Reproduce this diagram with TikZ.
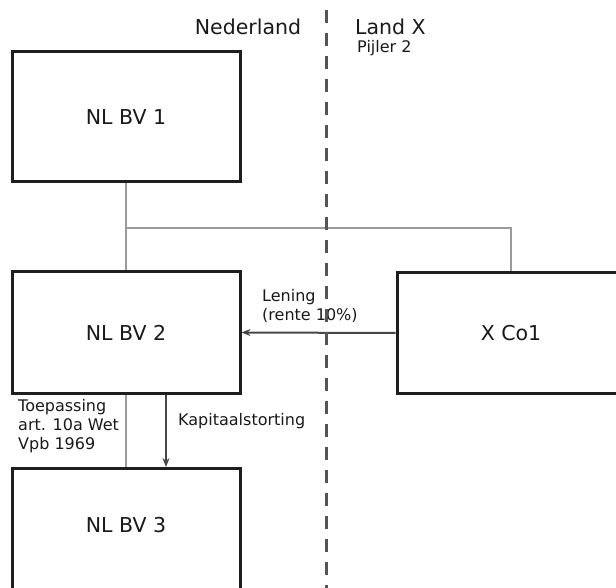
\documentclass[tikz,border=0pt]{standalone}
\usepackage{fontspec}
\setmainfont{DejaVu Sans}
\usetikzlibrary{arrows.meta}
\definecolor{boxline}{HTML}{1E1E1E}
\definecolor{txt}{HTML}{1A1A1A}
\definecolor{greyconn}{HTML}{9A9A9A}
\definecolor{arrowc}{HTML}{474747}
\definecolor{dashc}{HTML}{555555}
\tikzset{
  entity/.style={draw=boxline, line width=3pt, fill=white, minimum width=228pt, minimum height=121pt, inner sep=0pt, text=txt, font=\fontsize{20.5}{24}\selectfont},
  bigtext/.style={text=txt, font=\fontsize{20.5}{24}\selectfont, inner sep=0pt},
  smalltext/.style={text=txt, font=\fontsize{16}{19}\selectfont, inner sep=0pt, align=left},
  owner/.style={draw=greyconn, line width=1.5pt},
  flow/.style={draw=arrowc, line width=2pt, -{Stealth[length=9pt,width=7pt]}},
  border/.style={draw=dashc, line width=3pt, dash pattern=on 13pt off 10pt},
}
\begin{document}
\begin{tikzpicture}[x=1pt,y=-1pt]
\useasboundingbox (0,0) rectangle (616,588);
\clip (0,0) rectangle (616,588);
\fill[white] (0,0) rectangle (616,588);
% entities
\node[entity, minimum height=130pt] (bv1) at (126,117) {NL BV 1};
\node[entity] (bv2) at (126,332.5) {NL BV 2};
\node[entity] (xco) at (511,333) {X Co1};
\node[entity, minimum height=150pt, anchor=north] (bv3) at (126,467) {};
\node[bigtext] (bv3t) at (126,525) {NL BV 3};
% ownership lines
\coordinate (hub) at (126,228);
\draw[owner] (bv1.south) -- (bv2.north);
\draw[owner] (hub) -| (xco.north);
\draw[owner] (bv2.south) -- (bv3.north);
% flows
\draw[flow] (xco.west) -- (bv2.east);
\coordinate (kapstart) at ([xshift=40pt]bv2.south);
\draw[flow] (kapstart) -- (kapstart |- bv3.north);
% labels
\node[bigtext] (nl) at (248,27) {Nederland};
\node[bigtext, anchor=west] (lx) at (355,27) {Land X};
\node[smalltext, anchor=west] (pij) at (357,48) {Pijler 2};
\node[smalltext, anchor=west] (len) at (262,306) {Lening\\(rente 10\%)};
\node[smalltext, anchor=west] (kap) at (178,421) {Kapitaalstorting};
\node[smalltext, anchor=west] (toe) at (18,426) {Toepassing\\art. 10a Wet\\Vpb 1969};
% border line
\coordinate (dtop) at (326,10);
\coordinate (dbot) at (326,600);
\draw[border] (dtop) -- (dbot);
\end{tikzpicture}
\end{document}
